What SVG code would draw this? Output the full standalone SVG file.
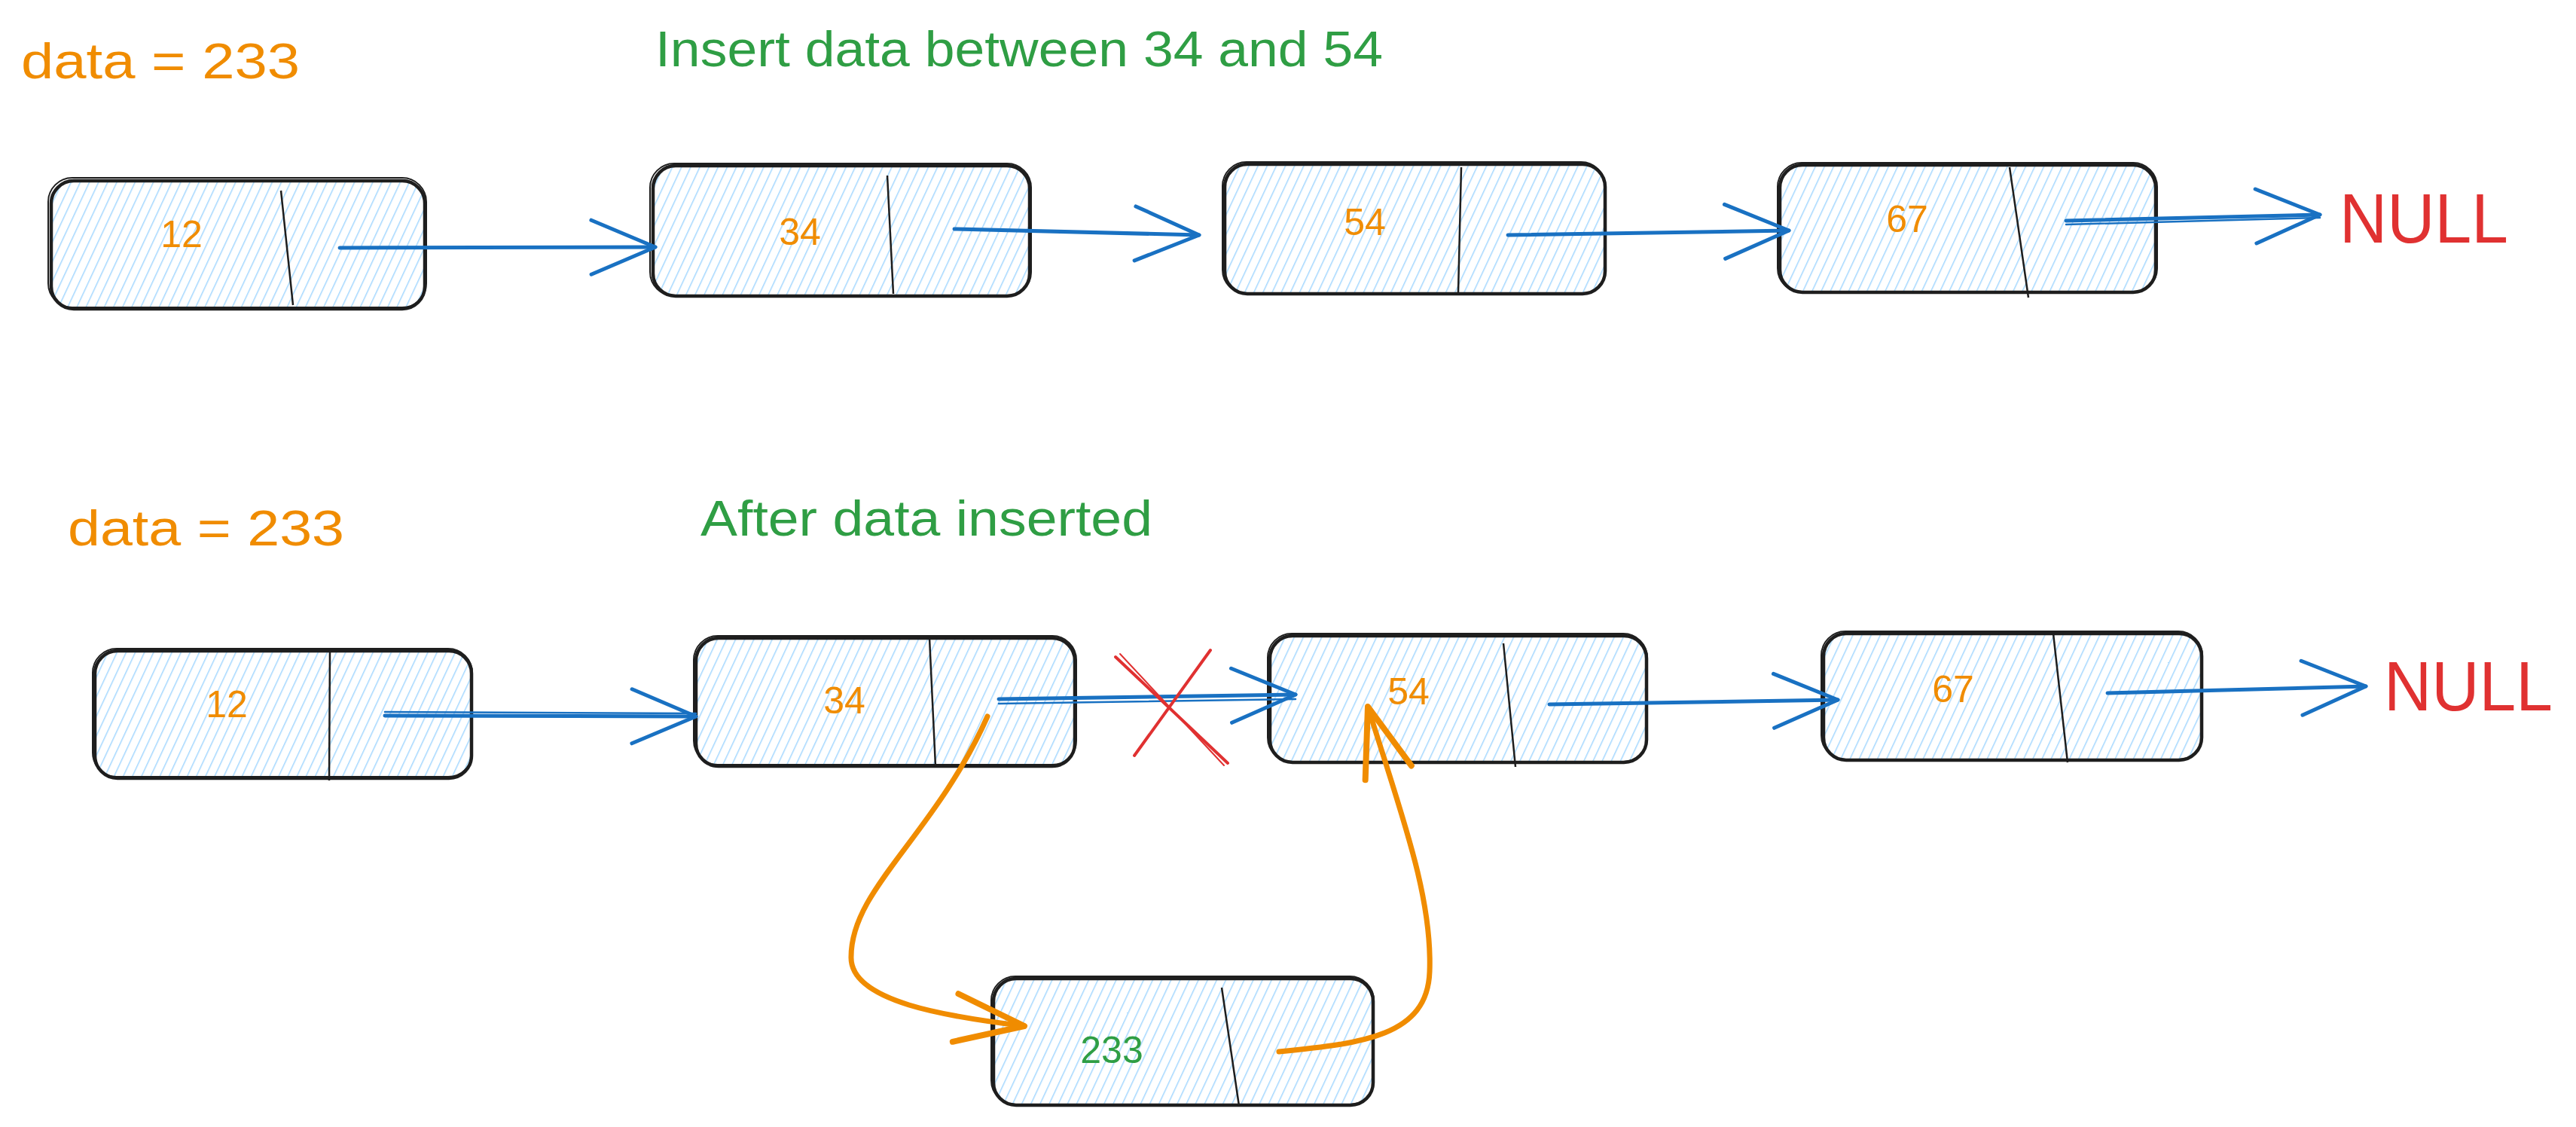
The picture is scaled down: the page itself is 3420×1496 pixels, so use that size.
<svg xmlns="http://www.w3.org/2000/svg" width="3420" height="1496" viewBox="0 0 3420 1496">
<defs>
<style>
.bg{fill:#ffffff}
.fill{fill:url(#hach)}
.o1{fill:none;stroke:#1e1e1e;stroke-width:4.5;stroke-linejoin:round}
.o2{fill:none;stroke:#1e1e1e;stroke-width:2}
.div{stroke:#1e1e1e;stroke-width:2.5;fill:none}
.lbl{font-family:"Liberation Sans Narrow","Liberation Sans",Arial,sans-serif;font-size:50px;text-anchor:middle}
.txt{font-family:"Liberation Sans Narrow","Liberation Sans",Arial,sans-serif;font-size:66px}
.null{font-family:"Liberation Sans Narrow","Liberation Sans",Arial,sans-serif;font-size:92px;fill:#e03131}
.orange{fill:#f08c00}
.green{fill:#2f9e44}
.blue{fill:none;stroke:#1971c2;stroke-width:5;stroke-linecap:round}
.blue2{fill:none;stroke:#1971c2;stroke-width:2.5;stroke-linecap:round}
.or{fill:none;stroke:#f08c00;stroke-width:7;stroke-linecap:round}
.red{fill:none;stroke:#e03131;stroke-width:4;stroke-linecap:round}
</style>
<pattern id="hach" width="11" height="11" patternUnits="userSpaceOnUse" patternTransform="rotate(25)">
<line x1="0" y1="0" x2="0" y2="11" stroke="#a5d8ff" stroke-width="3"/>
</pattern>
<marker id="ab" markerUnits="userSpaceOnUse" markerWidth="120" markerHeight="120" viewBox="-110 -60 120 120" refX="0" refY="0" orient="auto">
<path d="M-85,-36 L0,0 L-85,36" fill="none" stroke="#1971c2" stroke-width="5" stroke-linecap="round" stroke-linejoin="round"/>
</marker>
<marker id="ao" markerUnits="userSpaceOnUse" markerWidth="120" markerHeight="120" viewBox="-110 -60 120 120" refX="0" refY="0" orient="auto">
<path d="M-92,-32 L0,0 L-92,32" fill="none" stroke="#f08c00" stroke-width="8" stroke-linecap="round" stroke-linejoin="round"/>
</marker>
</defs>
<rect class="bg" x="0" y="0" width="3420" height="1496"/>

<text class="txt orange" x="28" y="104" textLength="370" lengthAdjust="spacingAndGlyphs">data = 233</text>
<text class="txt green" x="870" y="88" textLength="966" lengthAdjust="spacingAndGlyphs">Insert data between 34 and 54</text>
<text class="txt orange" x="90" y="724" textLength="367" lengthAdjust="spacingAndGlyphs">data = 233</text>
<text class="txt green" x="930" y="711" textLength="600" lengthAdjust="spacingAndGlyphs">After data inserted</text>

<g id="node-top-12">
<rect class="fill" x="68" y="238" width="496" height="172" rx="30"/>
<rect class="o1" x="68" y="240" width="496" height="170" rx="30"/>
<rect class="o2" x="64" y="236" width="502" height="172" rx="32"/>
<path class="div" d="M373,253 L389,405"/>
<text class="lbl orange" x="241" y="328">12</text>
</g>
<g id="node-top-34">
<rect class="fill" x="867" y="218" width="500" height="176" rx="30"/>
<rect class="o1" x="867" y="220" width="500" height="173" rx="30"/>
<rect class="o2" x="863" y="217" width="506" height="176" rx="32"/>
<path class="div" d="M1178,233 L1186,390"/>
<text class="lbl orange" x="1062" y="325">34</text>
</g>
<g id="node-top-54">
<rect class="fill" x="1626" y="215" width="505" height="175" rx="30"/>
<rect class="o1" x="1626" y="218" width="505" height="172" rx="30"/>
<rect class="o2" x="1623" y="215" width="508" height="175" rx="32"/>
<path class="div" d="M1940,222 L1936,388"/>
<text class="lbl orange" x="1812" y="312">54</text>
</g>
<g id="node-top-67">
<rect class="fill" x="2363" y="217" width="499" height="171" rx="30"/>
<rect class="o1" x="2363" y="219" width="499" height="169" rx="30"/>
<rect class="o2" x="2360" y="216" width="504" height="172" rx="32"/>
<path class="div" d="M2668,222 L2693,395"/>
<text class="lbl orange" x="2532" y="308">67</text>
</g>
<text id="null-top" class="null" x="3106" y="322" textLength="224" lengthAdjust="spacingAndGlyphs">NULL</text>

<g id="node-bot-12">
<rect class="fill" x="126" y="862" width="500" height="171" rx="30"/>
<rect class="o1" x="126" y="864" width="500" height="169" rx="30"/>
<rect class="o2" x="123" y="861" width="504" height="170" rx="32"/>
<path class="div" d="M438,863 L437,1036"/>
<text class="lbl orange" x="301" y="952">12</text>
</g>
<g id="node-bot-34">
<rect class="fill" x="924" y="845" width="503" height="172" rx="30"/>
<rect class="o1" x="924" y="847" width="503" height="170" rx="30"/>
<rect class="o2" x="921" y="844" width="508" height="171" rx="32"/>
<path class="div" d="M1234,847 L1242,1017"/>
<text class="lbl orange" x="1121" y="947">34</text>
</g>
<g id="node-bot-54">
<rect class="fill" x="1686" y="842" width="500" height="170" rx="30"/>
<rect class="o1" x="1686" y="844" width="500" height="168" rx="30"/>
<rect class="o2" x="1683" y="841" width="504" height="170" rx="32"/>
<path class="div" d="M1996,854 L2012,1018"/>
<text class="lbl orange" x="1870" y="935">54</text>
</g>
<g id="node-bot-67">
<rect class="fill" x="2421" y="839" width="502" height="170" rx="30"/>
<rect class="o1" x="2421" y="841" width="502" height="168" rx="30"/>
<rect class="o2" x="2418" y="838" width="506" height="170" rx="32"/>
<path class="div" d="M2726,841 L2745,1012"/>
<text class="lbl orange" x="2593" y="932">67</text>
</g>
<text id="null-bot" class="null" x="3165" y="943" textLength="224" lengthAdjust="spacingAndGlyphs">NULL</text>

<g id="node-233">
<rect class="fill" x="1319" y="1297" width="504" height="170" rx="30"/>
<rect class="o1" x="1319" y="1299" width="504" height="168" rx="30"/>
<rect class="o2" x="1316" y="1296" width="508" height="170" rx="32"/>
<path class="div" d="M1622,1311 L1645,1468"/>
<text class="lbl green" x="1476" y="1411">233</text>
</g>

<g id="connectors">
<path class="blue" d="M451,329 L870,328" marker-end="url(#ab)"/>
<path class="blue" d="M1267,304 L1592,312" marker-end="url(#ab)"/>
<path class="blue" d="M2002,312 L2375,306" marker-end="url(#ab)"/>
<path class="blue" d="M2743,293 L3080,285" marker-end="url(#ab)"/>
<path class="blue2" d="M2743,298 L3080,289"/>

<path class="blue" d="M511,950 L924,951" marker-end="url(#ab)"/>
<path class="blue2" d="M511,945 L924,947"/>
<path class="blue" d="M1326,928 L1720,922" marker-end="url(#ab)"/>
<path class="blue2" d="M1326,934 L1720,928"/>
<path class="blue" d="M2057,935 L2440,929" marker-end="url(#ab)"/>
<path class="blue" d="M2798,920 L3141,911" marker-end="url(#ab)"/>

<path class="red" d="M1607,863 L1506,1003"/>
<path class="red" d="M1481,872 L1630,1013"/>
<path class="red" style="stroke-width:2" d="M1487,868 L1625,1016"/>

<path class="or" d="M1311,951 C1240,1110 1130,1180 1130,1270 C1128,1330 1260,1350 1360,1362" marker-end="url(#ao)"/>
<path class="or" d="M1698,1396 C1810,1385 1895,1375 1898,1290 C1902,1190 1860,1080 1816,938" marker-end="url(#ao)"/>
</g>
</svg>
